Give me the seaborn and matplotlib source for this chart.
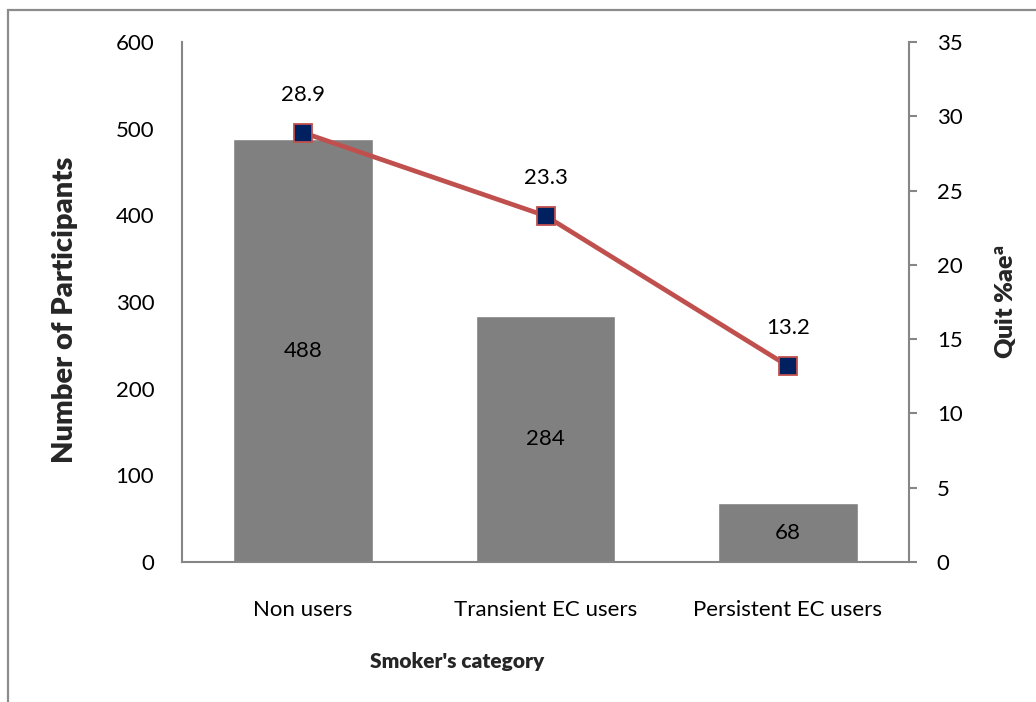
import matplotlib
matplotlib.use("Agg")
import matplotlib.pyplot as plt
import seaborn as sns
import pandas as pd
from matplotlib.patches import Rectangle

# Data
categories = ["Non users", "Transient EC users", "Persistent EC users"]
participants = [488, 284, 68]
quit_pct = [28.9, 23.3, 13.2]

df = pd.DataFrame({"category": categories,
                   "participants": participants,
                   "quit": quit_pct})

sns.set_theme(style="white")
plt.rcParams["font.family"] = ["Lato", "DejaVu Sans"]
plt.rcParams["mathtext.fontset"] = "custom"
plt.rcParams["mathtext.rm"] = "Lato"
plt.rcParams["mathtext.bf"] = "Lato:heavy"

FS = 16
GRID = "#868686"
BAR = "#808080"
LINE = "#C0504D"
MARK = "#002060"

fig = plt.figure(figsize=(10.36, 7.02), dpi=100)
ax = fig.add_axes([182 / 1036, 1 - 562 / 702, (909 - 182) / 1036, (562 - 42) / 702])

# outer chart frame
fig.patches.append(Rectangle((8 / 1036, -0.05), 1.2, 1 - 10 / 702 + 0.05,
                             transform=fig.transFigure, fill=False,
                             edgecolor="#8c8c8c", linewidth=1.6))

sns.barplot(data=df, x="category", y="participants", color=BAR,
            width=0.575, saturation=1, ax=ax, zorder=2)
ax.set_ylim(0, 600)
ax.set_xlim(-0.5, 2.5)
ax.set_yticks(range(0, 601, 100))
ax.tick_params(axis="y", length=0, pad=20, labelsize=FS, colors="black")
ax.tick_params(axis="x", length=0, pad=27, labelsize=FS, colors="black")
for s in ["top", "right"]:
    ax.spines[s].set_visible(False)
for s in ["left", "bottom"]:
    ax.spines[s].set_color(GRID)
    ax.spines[s].set_linewidth(1.5)

for i, v in enumerate(participants):
    ax.text(i, v / 2, f"{v}", ha="center", va="center", fontsize=FS, color="black")

ax.set_ylabel("Number of Participants", fontsize=21, fontweight="heavy")
ax.yaxis.set_label_coords(-0.143, 0.485)
ax.set_xlabel("Smoker's category", fontsize=FS - 1, fontweight="heavy")
ax.xaxis.set_label_coords(0.378, -0.173)

ax2 = ax.twinx()
sns.lineplot(data=df, x="category", y="quit", sort=False, color=LINE,
             linewidth=3.4, marker="s", markersize=13, markerfacecolor=MARK,
             markeredgecolor=LINE, markeredgewidth=1.3, ax=ax2, zorder=3)
ax2.set_ylim(0, 35)
ax2.set_yticks(range(0, 36, 5))
ax2.tick_params(axis="y", direction="out", length=6, width=1.5, color=GRID,
                pad=14, labelsize=FS, colors="black")
ax2.tick_params(axis="y", color=GRID)
for s in ["top", "left", "bottom"]:
    ax2.spines[s].set_visible(False)
ax2.spines["right"].set_color(GRID)
ax2.spines["right"].set_linewidth(1.5)
ax2.set_ylabel(r"Quit %ae$^{\mathbf{a}}$", fontsize=18, fontweight="heavy", labelpad=22)
ax2.set_xlabel("")

for i, v in enumerate(quit_pct):
    ax2.annotate(f"{v}", (i, v), xytext=(0, 27), textcoords="offset points",
                 ha="center", va="center", fontsize=FS, color="black")

fig.savefig("out.png", dpi=100)
